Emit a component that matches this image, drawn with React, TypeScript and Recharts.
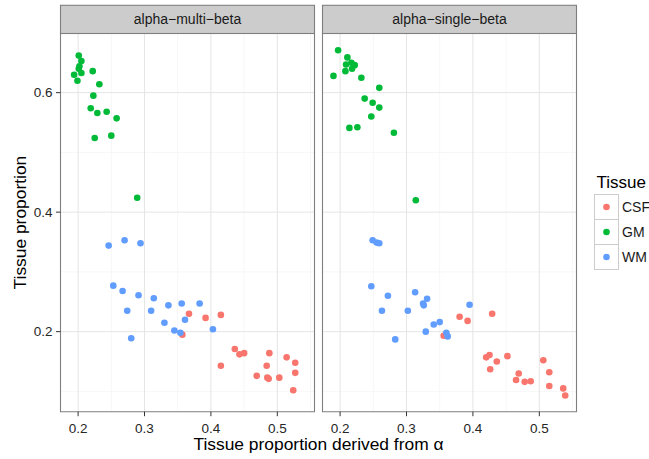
import React from "react";
import { ScatterChart, Scatter, XAxis, YAxis, CartesianGrid, ReferenceArea } from "recharts";

// Tissue classes and their fill colours
const tissues = ["CSF", "GM", "WM"];
const tissueColors = ["#F8766D", "#00BA38", "#619CFF"];

// Facet titles
const panelTitles = ["alpha\u2212multi\u2212beta", "alpha\u2212single\u2212beta"];

// Axis ticks and grid lines
const xTicks = [0.2, 0.3, 0.4, 0.5];
const xMinor = [0.25, 0.35, 0.45, 0.55];
const yTicks = [0.2, 0.4, 0.6];
const yMinor = [0.1, 0.3, 0.5];
const xDomain: [number, number] = [0.1735, 0.556];
const yDomain: [number, number] = [0.066, 0.699];

// alpha-multi-beta: [proportion derived from alpha, tissue proportion]
const multiCSF: [number, number][] = [
  [0.367, 0.23], [0.392, 0.223], [0.415, 0.228], [0.357, 0.195], [0.436, 0.171],
  [0.443, 0.162], [0.45, 0.164], [0.488, 0.164], [0.415, 0.143], [0.484, 0.143],
  [0.514, 0.157], [0.527, 0.148], [0.469, 0.126], [0.485, 0.123], [0.487, 0.121],
  [0.503, 0.123], [0.527, 0.131], [0.524, 0.102],
];
const multiGM: [number, number][] = [
  [0.201, 0.662], [0.205, 0.653], [0.202, 0.644], [0.201, 0.64], [0.205, 0.633],
  [0.194, 0.63], [0.199, 0.62], [0.222, 0.636], [0.232, 0.614], [0.223, 0.595],
  [0.219, 0.574], [0.229, 0.566], [0.243, 0.568], [0.258, 0.557], [0.225, 0.524],
  [0.25, 0.528], [0.289, 0.424],
];
const multiWM: [number, number][] = [
  [0.246, 0.344], [0.27, 0.353], [0.294, 0.348], [0.253, 0.277], [0.267, 0.268],
  [0.291, 0.261], [0.314, 0.256], [0.274, 0.235], [0.31, 0.235], [0.336, 0.244],
  [0.356, 0.247], [0.383, 0.247], [0.361, 0.22], [0.33, 0.215], [0.345, 0.202],
  [0.354, 0.198], [0.403, 0.204], [0.28, 0.189],
];

// alpha-single-beta
const singleCSF: [number, number][] = [
  [0.38, 0.225], [0.392, 0.218], [0.429, 0.23], [0.356, 0.193], [0.42, 0.157],
  [0.425, 0.161], [0.436, 0.15], [0.426, 0.137], [0.452, 0.159], [0.469, 0.13],
  [0.465, 0.119], [0.478, 0.116], [0.487, 0.117], [0.506, 0.152], [0.515, 0.132],
  [0.515, 0.109], [0.536, 0.105], [0.539, 0.093],
];
const singleGM: [number, number][] = [
  [0.197, 0.671], [0.211, 0.659], [0.209, 0.647], [0.217, 0.65], [0.222, 0.646],
  [0.218, 0.64], [0.208, 0.636], [0.19, 0.628], [0.232, 0.625], [0.259, 0.608],
  [0.237, 0.59], [0.249, 0.583], [0.259, 0.575], [0.247, 0.56], [0.214, 0.541],
  [0.226, 0.542], [0.281, 0.533], [0.314, 0.42],
];
const singleWM: [number, number][] = [
  [0.249, 0.353], [0.255, 0.349], [0.259, 0.348], [0.247, 0.276], [0.272, 0.26],
  [0.313, 0.266], [0.331, 0.255], [0.325, 0.247], [0.326, 0.244], [0.263, 0.235],
  [0.302, 0.235], [0.395, 0.245], [0.35, 0.216], [0.341, 0.212], [0.329, 0.2],
  [0.36, 0.198], [0.362, 0.192], [0.283, 0.187],
];

const panels = [
  [multiCSF, multiGM, multiWM],
  [singleCSF, singleGM, singleWM],
];

// Layout
const W = 649;
const H = 459;
const plotTop = 33.5;
const plotBottom = 411.7;
const panelLefts = [60.5, 322.5];
const panelWidth = 254;
const stripTop = 5.3;
const font = "'Liberation Sans', Arial, Helvetica, sans-serif";
const textColor = "#262626";
const POINT_R = 3.3;

const toRows = (pts: [number, number][]) => pts.map(([x, y]) => ({ x, y }));

function dot(color: string) {
  return (props: any) => <circle cx={props.cx} cy={props.cy} r={POINT_R} fill={color} />;
}

function Panel({ index }: { index: number }) {
  const showY = index === 0;
  const yAxisW = 60.5;
  const divLeft = showY ? 0 : panelLefts[index] - 6.5;
  const marginLeft = showY ? 0 : 6.5;
  const width = showY ? yAxisW + panelWidth + 1.5 : marginLeft + panelWidth + 1.5;
  return (
    <div style={{ position: "absolute", left: divLeft, top: 0 }}>
      <ScatterChart
        width={width}
        height={H}
        margin={{ top: plotTop, right: 1.5, bottom: 0, left: marginLeft }}
      >
        <CartesianGrid horizontalValues={yMinor} verticalValues={xMinor} stroke="#F7F7F7" strokeWidth={1} />
        <CartesianGrid horizontalValues={yTicks} verticalValues={xTicks} stroke="#E5E5E5" strokeWidth={1} />
        <XAxis
          type="number"
          dataKey="x"
          domain={xDomain}
          ticks={xTicks}
          allowDataOverflow
          height={H - plotBottom}
          tickSize={4.5}
          tickMargin={7}
          axisLine={false}
          tickLine={{ stroke: "#333333" }}
          tick={{ fill: textColor, fontSize: 13.5 }}
          tickFormatter={(v: number) => v.toFixed(1)}
        />
        <YAxis
          type="number"
          dataKey="y"
          domain={yDomain}
          ticks={yTicks}
          allowDataOverflow
          hide={!showY}
          width={yAxisW}
          tickSize={4.5}
          tickMargin={3.5}
          axisLine={false}
          tickLine={{ stroke: "#333333" }}
          tick={{ fill: textColor, fontSize: 13.5 }}
          tickFormatter={(v: number) => v.toFixed(1)}
        />
        <ReferenceArea
          x1={xDomain[0]}
          x2={xDomain[1]}
          y1={yDomain[0]}
          y2={yDomain[1]}
          fill="none"
          fillOpacity={0}
          stroke="#7F7F7F"
          strokeWidth={1.1}
        />
        {panels[index].map((pts, i) => (
          <Scatter
            key={tissues[i]}
            name={tissues[i]}
            data={toRows(pts)}
            fill={tissueColors[i]}
            shape={dot(tissueColors[i])}
            isAnimationActive={false}
          />
        ))}
      </ScatterChart>
    </div>
  );
}

function Decorations() {
  const legendX = 594.5;
  const legendY = 194.5;
  const keyW = 24;
  const keyH = 25;
  return (
    <svg
      width={W}
      height={H}
      style={{ position: "absolute", left: 0, top: 0, pointerEvents: "none" }}
      fontFamily={font}
    >
      {panelTitles.map((t, i) => (
        <g key={t}>
          <rect
            x={panelLefts[i]}
            y={stripTop}
            width={panelWidth}
            height={plotTop - stripTop}
            fill="#CCCCCC"
            stroke="#7F7F7F"
            strokeWidth={1.1}
          />
          <text
            x={panelLefts[i] + panelWidth / 2}
            y={(stripTop + plotTop) / 2}
            dy="0.36em"
            textAnchor="middle"
            fontSize={14}
            fill="#1A1A1A"
          >
            {t}
          </text>
        </g>
      ))}
      <text
        x={(panelLefts[0] + panelLefts[1] + panelWidth) / 2}
        y={450}
        textAnchor="middle"
        fontSize={17.4}
        fill="#000"
      >
        Tissue proportion derived from {"\u03b1"}
      </text>
      <text
        transform={`translate(20, ${(plotTop + plotBottom) / 2}) rotate(-90)`}
        dy="0.36em"
        textAnchor="middle"
        fontSize={17.4}
        fill="#000"
      >
        Tissue proportion
      </text>
      <text x={596.5} y={188} fontSize={17} fill="#000">
        Tissue
      </text>
      {tissues.map((t, i) => (
        <g key={t}>
          <rect
            x={legendX}
            y={legendY + i * keyH}
            width={keyW}
            height={keyH}
            fill="#FFFFFF"
            stroke="#CCCCCC"
            strokeWidth={1}
          />
          <circle cx={legendX + keyW / 2} cy={legendY + i * keyH + keyH / 2} r={POINT_R} fill={tissueColors[i]} />
          <text
            x={622}
            y={legendY + i * keyH + keyH / 2}
            dy="0.36em"
            fontSize={14}
            fill="#1A1A1A"
          >
            {t}
          </text>
        </g>
      ))}
    </svg>
  );
}

export default function App() {
  return (
    <div
      style={{
        position: "absolute",
        left: 0,
        top: 0,
        width: W,
        height: H,
        background: "#FFFFFF",
        fontFamily: font,
        overflow: "hidden",
      }}
    >
      <Panel index={0} />
      <Panel index={1} />
      <Decorations />
    </div>
  );
}
